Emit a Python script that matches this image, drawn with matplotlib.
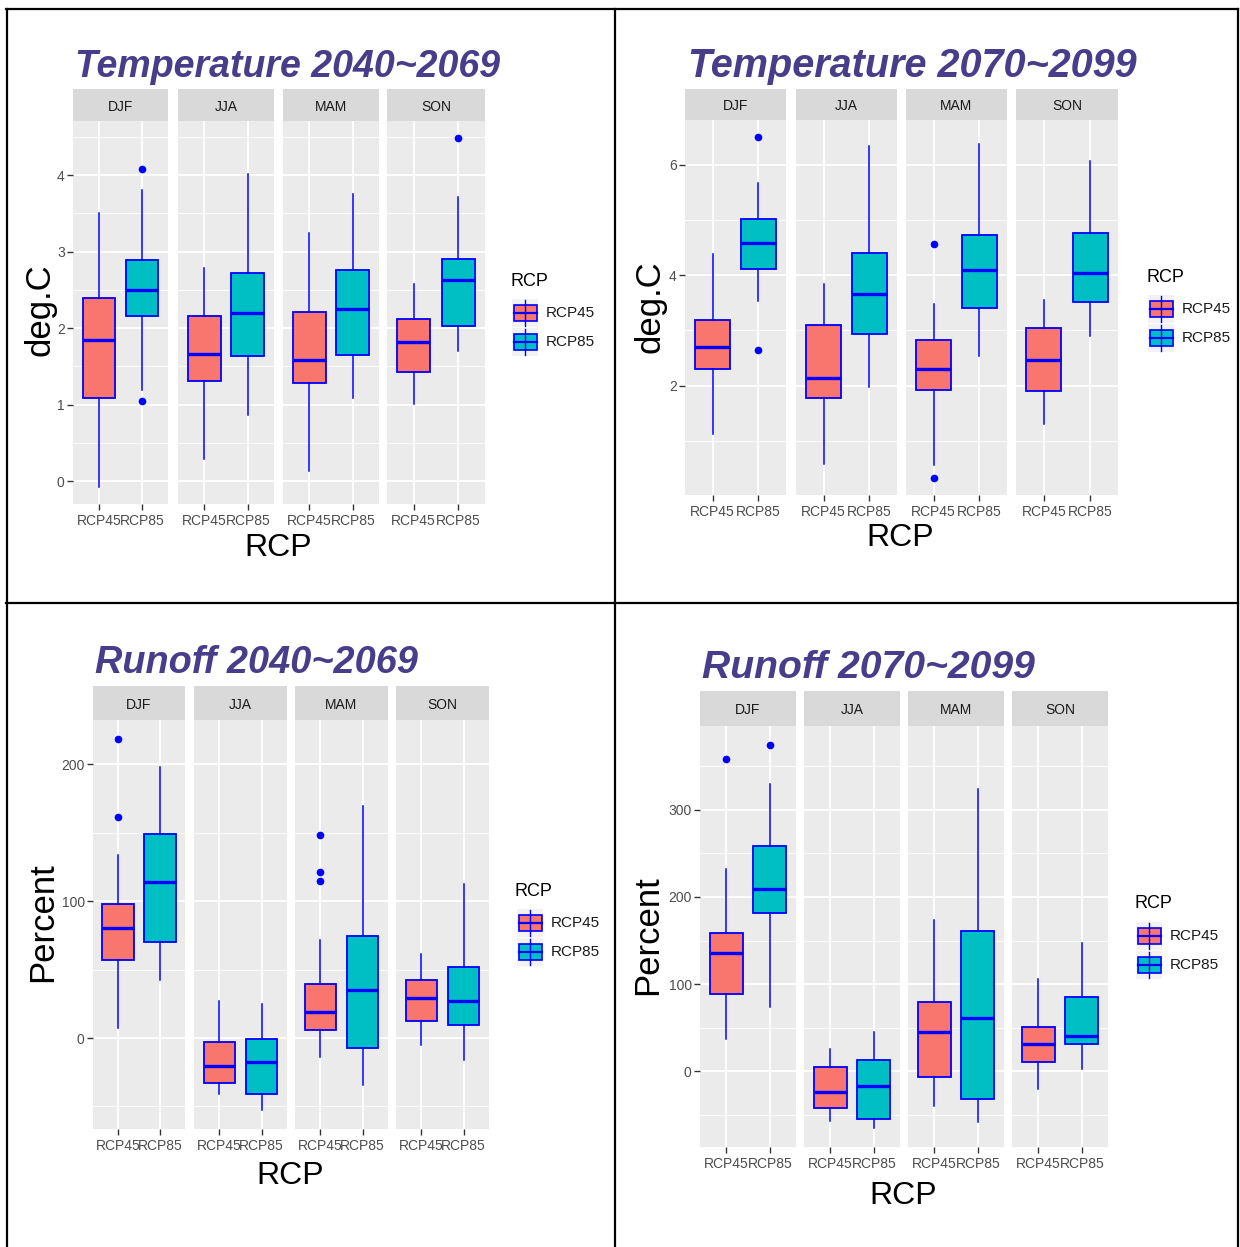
import matplotlib.pyplot as plt
from matplotlib.patches import Rectangle
from matplotlib.lines import Line2D
import numpy as np

plt.rcParams['font.family'] = ['Liberation Sans', 'DejaVu Sans']

seasons = ['DJF', 'JJA', 'MAM', 'SON']
rcps = ['RCP45', 'RCP85']

# box stats per season: [lower whisker, q1, median, q3, upper whisker]
temp1_rcp45 = [[-0.07, 1.09, 1.85, 2.40, 3.51], [0.29, 1.31, 1.66, 2.16, 2.78],
               [0.14, 1.28, 1.59, 2.21, 3.25], [1.01, 1.43, 1.82, 2.12, 2.58]]
temp1_rcp85 = [[1.19, 2.16, 2.50, 2.89, 3.80], [0.86, 1.64, 2.20, 2.72, 4.02],
               [1.09, 1.65, 2.25, 2.76, 3.76], [1.70, 2.03, 2.63, 2.91, 3.72]]
temp1_out45 = [[], [], [], []]
temp1_out85 = [[4.08, 1.05], [], [], [4.48]]

temp2_rcp45 = [[1.13, 2.30, 2.70, 3.19, 4.38], [0.59, 1.77, 2.14, 3.10, 3.84],
               [0.57, 1.93, 2.30, 2.83, 3.48], [1.31, 1.90, 2.46, 3.05, 3.55]]
temp2_rcp85 = [[3.53, 4.12, 4.58, 5.02, 5.66], [1.98, 2.94, 3.66, 4.40, 6.33],
               [2.54, 3.40, 4.09, 4.73, 6.38], [2.90, 3.52, 4.04, 4.76, 6.06]]
temp2_out45 = [[], [], [4.57, 0.33], []]
temp2_out85 = [[6.50, 2.64], [], [], []]

run1_rcp45 = [[7.1, 57.0, 80.5, 97.9, 133.8], [-41.1, -33.0, -20.3, -3.2, 26.9],
              [-14.2, 5.6, 19.1, 39.4, 71.4], [-5.4, 12.7, 28.9, 42.3, 61.7]]
run1_rcp85 = [[42.1, 70.0, 114.0, 149.3, 198.2], [-52.9, -40.9, -17.6, -1.0, 24.7],
              [-34.0, -7.1, 35.2, 74.2, 169.3], [-16.2, 9.5, 27.2, 52.1, 112.3]]
run1_out45 = [[218.8, 161.2], [], [148.3, 121.6, 114.8], []]
run1_out85 = [[], [], [], []]

run2_rcp45 = [[37.5, 89.1, 135.3, 158.3, 232.5], [-56.5, -41.6, -23.3, 4.6, 26.0],
              [-39.0, -6.4, 45.5, 79.9, 173.2], [-19.8, 11.1, 31.0, 51.3, 106.0]]
run2_rcp85 = [[74.2, 182.0, 208.7, 258.8, 329.9], [-64.6, -54.6, -16.7, 12.6, 45.2],
              [-58.0, -31.0, 61.6, 161.4, 323.1], [2.3, 31.8, 40.6, 84.9, 147.2]]
run2_out45 = [[357.5], [], [], []]
run2_out85 = [[373.9], [], [], []]

fill_colors = ['#F8766D', '#00BFC4']
edge = '#0000FF'
title_color = '#483D8B'

W, H = 1240, 1247
fig = plt.figure(figsize=(W / 100, H / 100), dpi=100)


def rect(x0, y0, x1, y1):
    return [x0 / W, 1 - y1 / H, (x1 - x0) / W, (y1 - y0) / H]


def ftext(x, y, s, **kw):
    fig.text(x / W, 1 - y / H, s, **kw)


over = fig.add_axes([0, 0, 1, 1], zorder=10)
over.set_xlim(0, W)
over.set_ylim(H, 0)
over.axis('off')


def draw_panel(title, tsize, ylabel, s45, s85, o45, o85, facets, strip, bottom,
               step, title_xy, ylab_xy, xlab_xy, leg_xy):
    vals = [v for s in s45 + s85 for v in (s[0], s[4])] + \
           [v for o in o45 + o85 for v in o]
    lo, hi = min(vals), max(vals)
    pad = 0.05 * (hi - lo)
    ylim = (lo - pad, hi + pad)
    major = np.arange(np.ceil(ylim[0] / step), np.floor(ylim[1] / step) + 1) * step
    minor = np.arange(np.floor(ylim[0] / step), np.ceil(ylim[1] / step) + 1) * step + step / 2
    minor = minor[(minor > ylim[0]) & (minor < ylim[1])]

    for i, (x0, x1) in enumerate(facets):
        ax = fig.add_axes(rect(x0, strip[1], x1, bottom))
        ax.set_facecolor('#EBEBEB')
        for sp in ax.spines.values():
            sp.set_visible(False)
        ax.set_axisbelow(True)
        stats = []
        for s, o in ((s45[i], o45[i]), (s85[i], o85[i])):
            stats.append(dict(whislo=s[0], q1=s[1], med=s[2], q3=s[3],
                              whishi=s[4], fliers=o))
        bp = ax.bxp(stats, positions=[1, 2], widths=0.75, patch_artist=True,
                    showcaps=False,
                    boxprops=dict(edgecolor=edge, linewidth=1.3),
                    whiskerprops=dict(color=edge, linewidth=1.1),
                    medianprops=dict(color=edge, linewidth=2.4),
                    flierprops=dict(marker='o', markerfacecolor=edge,
                                    markeredgecolor=edge, markersize=4.5))
        for b, c in zip(bp['boxes'], fill_colors):
            b.set_facecolor(c)
        ax.set_xlim(0.4, 2.6)
        ax.set_ylim(*ylim)
        ax.set_xticks([1, 2])
        ax.set_xticklabels(rcps)
        ax.set_yticks(major)
        ax.set_yticks(minor, minor=True)
        ax.set_yticklabels(['%d' % round(v) for v in major])
        ax.grid(which='major', color='white', linewidth=1.3)
        ax.grid(which='minor', axis='y', color='white', linewidth=0.6)
        ax.tick_params(axis='x', length=4, width=1, color='#333333',
                       labelsize=10, labelcolor='#4D4D4D', pad=3)
        ax.tick_params(axis='y', which='minor', length=0)
        if i == 0:
            ax.tick_params(axis='y', which='major', length=4, width=1,
                           color='#333333', labelsize=10,
                           labelcolor='#4D4D4D', pad=2)
        else:
            ax.tick_params(axis='y', which='major', length=0, labelleft=False)

        sax = fig.add_axes(rect(x0, strip[0], x1, strip[1]))
        sax.set_facecolor('#D9D9D9')
        sax.set_xticks([])
        sax.set_yticks([])
        for sp in sax.spines.values():
            sp.set_visible(False)
        sax.text(0.5, 0.45, seasons[i], ha='center', va='center',
                 fontsize=10, color='#1A1A1A', transform=sax.transAxes)

    ftext(title_xy[0], title_xy[1], title, fontsize=tsize, fontweight='bold',
          fontstyle='italic', color=title_color, ha='left', va='baseline')
    ftext(ylab_xy[0], ylab_xy[1], ylabel, fontsize=25, rotation=90,
          ha='center', va='center', color='black')
    ftext(xlab_xy[0], xlab_xy[1], 'RCP', fontsize=23, ha='center',
          va='center', color='black')

    lx, ly = leg_xy
    ftext(lx, ly, 'RCP', fontsize=13, ha='left', va='center')
    for k, c in enumerate(fill_colors):
        yc = ly + 32 + k * 29
        kx = lx + 2
        over.add_patch(Rectangle((kx, yc - 14), 26, 28, facecolor='#F2F2F2',
                                 edgecolor='none'))
        over.add_line(Line2D([kx + 13, kx + 13], [yc - 13, yc + 13],
                             color=edge, linewidth=1.0))
        over.add_patch(Rectangle((kx + 1.5, yc - 8), 23, 16, facecolor=c,
                                 edgecolor=edge, linewidth=1.2))
        over.add_line(Line2D([kx + 1.5, kx + 24.5], [yc, yc],
                             color=edge, linewidth=1.6))
        ftext(kx + 34, yc, rcps[k], fontsize=11, ha='left', va='center',
              color='#1A1A1A')


draw_panel('Temperature 2040~2069', 27, 'deg.C', temp1_rcp45, temp1_rcp85,
           temp1_out45, temp1_out85,
           [(73, 168), (178, 274), (283, 379), (387, 485)], (89, 121), 504, 1,
           (75, 77), (40, 310), (278, 548), (510, 281))
draw_panel('Temperature 2070~2099', 28.5, 'deg.C', temp2_rcp45, temp2_rcp85,
           temp2_out45, temp2_out85,
           [(685, 786), (796, 897), (906, 1007), (1016, 1118)], (89, 120), 495, 2,
           (688, 77), (650, 307), (900, 538), (1146, 277))
draw_panel('Runoff 2040~2069', 27.3, 'Percent', run1_rcp45, run1_rcp85,
           run1_out45, run1_out85,
           [(93, 185), (194, 287), (295, 388), (396, 489)], (686, 720), 1129, 100,
           (95, 673), (43, 922), (290, 1176), (515, 891))
draw_panel('Runoff 2070~2099', 28.2, 'Percent', run2_rcp45, run2_rcp85,
           run2_out45, run2_out85,
           [(700, 796), (804, 900), (908, 1004), (1012, 1108)], (691, 726), 1147, 100,
           (702, 678), (648, 935), (903, 1196), (1134, 904))

# frame lines around the four charts
for xs, ys in [((6, 1238), (9, 9)), ((7, 7), (9, 1247)), ((1238, 1238), (9, 1247)),
               ((615, 615), (9, 1247)), ((6, 1238), (603, 603))]:
    over.add_line(Line2D(xs, ys, color='black', linewidth=1.6))

fig.savefig('out.png', dpi=100)
